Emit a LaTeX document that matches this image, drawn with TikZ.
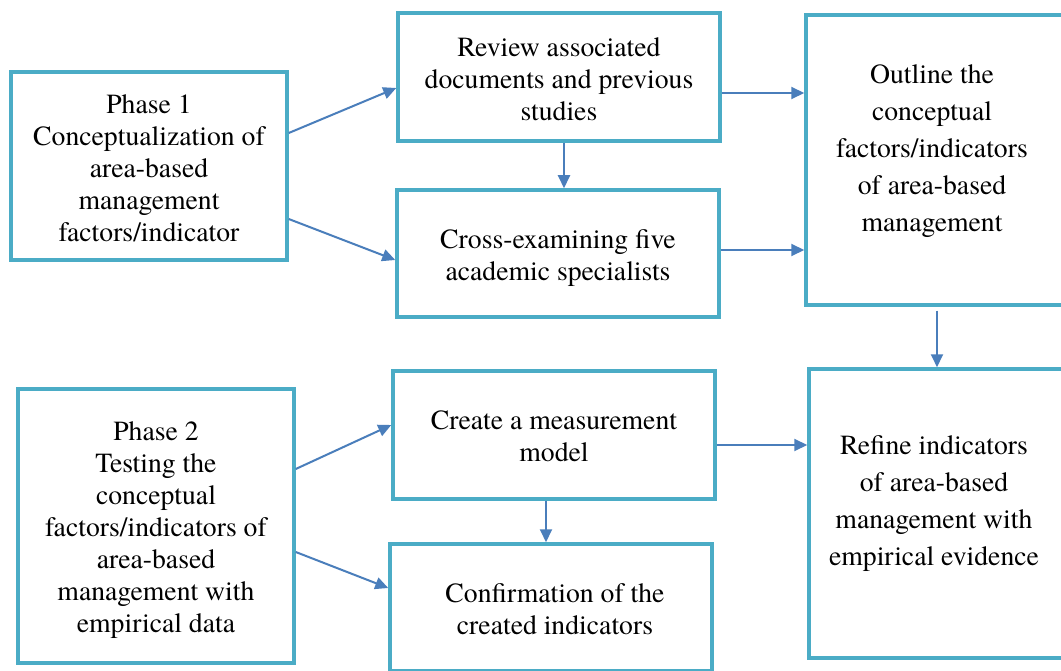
\documentclass[tikz,border=0pt]{standalone}
\usepackage{fontspec}
\setmainfont{TeX Gyre Termes}
\usetikzlibrary{arrows.meta}
\definecolor{boxc}{HTML}{4BACC6}
\definecolor{arrc}{HTML}{4A7EBB}
\newcommand\tbk[1]{\rule{0pt}{0.76em}#1\rule[-0.3em]{0pt}{0.3em}}
\begin{document}
\begin{tikzpicture}[x=1pt,y=-1pt,
  box/.style={draw=boxc, line width=3.5pt, rectangle, inner sep=0pt},
  txt/.style={align=center, inner sep=0pt, yshift=-3pt, font=\fontsize{27.7}{32}\selectfont},
  txtw/.style={align=center, inner sep=0pt, yshift=-3pt, font=\fontsize{27.7}{37}\selectfont},
  arr/.style={draw=arrc, line width=2pt, -{Triangle[length=13pt,width=12pt]}}]
\useasboundingbox (0,0) rectangle (1061,671);
\fill[white] (0,0) rectangle (1061,671);
\clip (0,0) rectangle (1061,671);

% boxes
\node[box, minimum width=276pt, minimum height=188pt] (p1) at (149,166) {};
\node[box, minimum width=322pt, minimum height=128pt] (rev) at (559,77) {};
\node[box, minimum width=322pt, minimum height=127pt] (cross) at (558,253.5) {};
\node[box, minimum width=264pt, minimum height=290pt] (out) at (938,160) {};
\node[box, minimum width=276pt, minimum height=274pt] (p2) at (156,526) {};
\node[box, minimum width=322pt, minimum height=128pt] (create) at (554,435) {};
\node[box, minimum width=322pt, minimum height=127pt] (conf) at (551,607.5) {};
\node[box, minimum width=261pt, minimum height=289pt] (ref) at (939.5,513.5) {};

% texts
\node[txt] (tp1) at (149,168) {\tbk{Phase 1\\Conceptualization of\\area-based\\management\\factors/indicator}};
\node[txt] (trev) at (559,79) {\tbk{Review associated\\documents and previous\\studies}};
\node[txt] (tcross) at (558,255.5) {\tbk{Cross-examining five\\academic specialists}};
\node[txtw] (tout) at (932,148) {\tbk{Outline the\\conceptual\\factors/indicators\\of area-based\\management}};
\node[txt] (tp2) at (156,527.5) {\tbk{Phase 2\\Testing the\\conceptual\\factors/indicators of\\area-based\\management with\\empirical data}};
\node[txt] (tcreate) at (554,436) {\tbk{Create a measurement\\model}};
\node[txt] (tconf) at (555,609) {\tbk{Confirmation of the\\created indicators}};
\node[txtw] (tref) at (934,500.5) {\tbk{Refine indicators\\of area-based\\management with\\empirical evidence}};

% connectors
\draw[arr] (p1.east |- 0,133) -- (rev.west |- 0,88);
\draw[arr] (p1.east |- 0,219) -- (cross.west |- 0,260);
\draw[arr] (rev.south -| 564,0) -- (cross.north -| 564,0);
\draw[arr] (rev.east |- 0,93) -- (out.west |- 0,93);
\draw[arr] (cross.east |- 0,250) -- (out.west |- 0,250);
\draw[arr] ([yshift=-4pt]out.south -| 937,0) -- (ref.north -| 937,0);
\draw[arr] (p2.east |- 0,469) -- (create.west |- 0,425);
\draw[arr] (p2.east |- 0,552) -- (conf.west |- 0,588);
\draw[arr] (create.south -| 546,0) -- (conf.north -| 546,0);
\draw[arr] (create.east |- 0,445) -- (ref.west |- 0,445);
\end{tikzpicture}
\end{document}
